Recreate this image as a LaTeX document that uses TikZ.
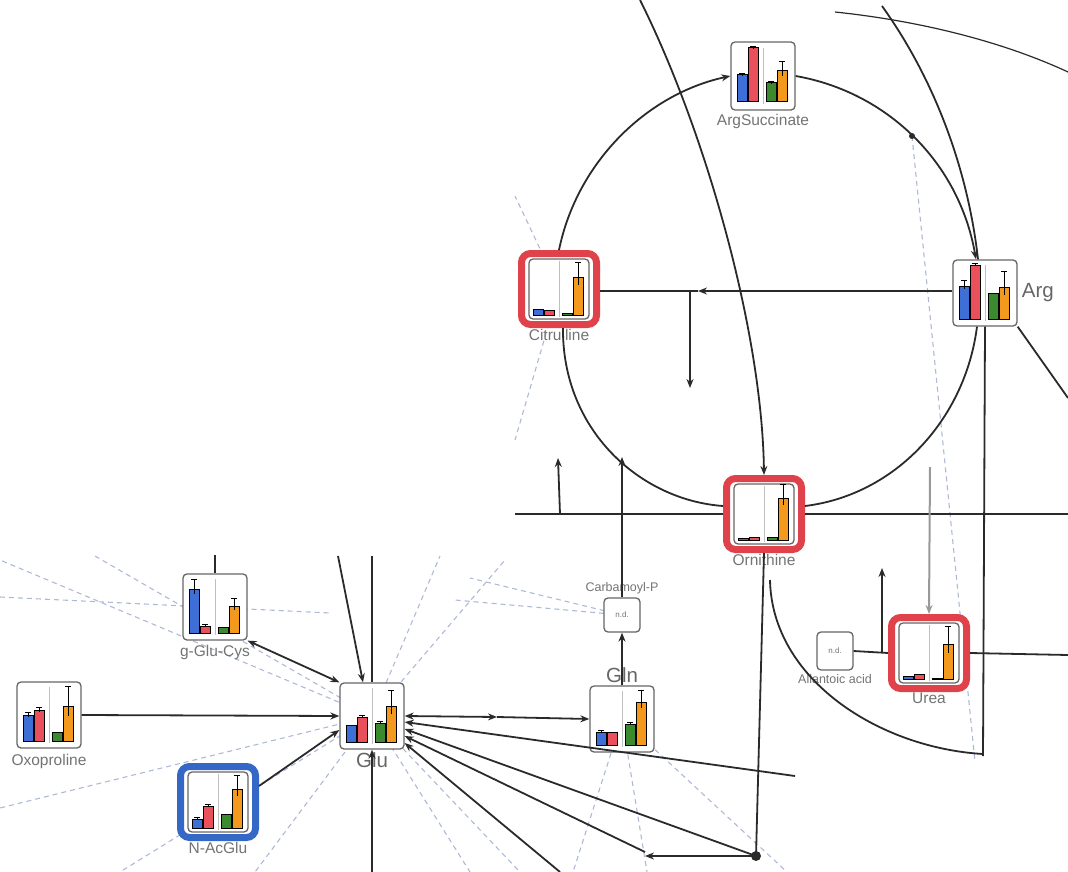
\documentclass[tikz,border=0pt]{standalone}
\usepackage{fontspec}
\newfontfamily\labelfont{Liberation Sans}
\usepackage{tikz}
\usetikzlibrary{arrows.meta,positioning}
\pgfdeclarelayer{background}
\pgfsetlayers{background,main}
\definecolor{barblue}{HTML}{3D6FD6}
\definecolor{barred}{HTML}{E9505C}
\definecolor{bargreen}{HTML}{3B8A2F}
\definecolor{barorange}{HTML}{F39A1E}
\definecolor{hlred}{HTML}{DF424B}
\definecolor{hlblue}{HTML}{3567C6}
\definecolor{edgegray}{HTML}{2A2A2A}
\definecolor{dashblue}{HTML}{AEB9D6}
\colorlet{bar1}{barblue}
\colorlet{bar2}{barred}
\colorlet{bar3}{bargreen}
\colorlet{bar4}{barorange}
\tikzset{
  mp glyph/.style={
    rectangle,
    rounded corners=4pt,
    draw=black!60,
    line width=1.3pt,
    fill=white,
    minimum width=64pt,
    minimum height=66pt,
    inner sep=0pt,
  },
  mp inner/.style={mp glyph, minimum width=60pt, minimum height=60pt},
  mp small/.style={
    mp glyph,
    minimum width=36pt,
    minimum height=34pt,
    font=\labelfont\fontsize{8}{9}\selectfont,
    text=black!55,
  },
  mp frame/.style={
    rectangle,
    rounded corners=9pt,
    line width=7pt,
    draw=#1,
    fill=white,
    minimum width=75pt,
    minimum height=71pt,
    inner sep=0pt,
  },
  mp label/.style={font=\labelfont\fontsize{15.5}{17}\selectfont, text=black!55, inner sep=1pt},
  mp tiny/.style={font=\labelfont\fontsize{12.5}{14}\selectfont, text=black!55, inner sep=1pt},
  mp big/.style={font=\labelfont\fontsize{20.5}{22}\selectfont, text=black!60, inner sep=1pt},
  mp line/.style={draw=edgegray, line width=1.8pt},
  mp arrow/.style={mp line, -{Stealth[length=9pt,width=7pt]}},
  mp both/.style={mp line, {Stealth[length=9pt,width=7pt]}-{Stealth[length=9pt,width=7pt]}},
  mp pale/.style={draw=black!40, line width=2pt, -{Stealth[length=9pt,width=7pt]}},
  mp dash/.style={draw=dashblue, line width=1.1pt, dash pattern=on 5pt off 4pt},
}
% four bars (blue, red | green, orange) as height/error
\newcommand\glyphbars[2]{%
  \begin{scope}[shift={(#1.center)}]
    \draw[black!25, line width=0.8pt] (0,-28) -- (0,28);
    \foreach \h/\e [count=\i] in {#2} {
      \pgfmathsetmacro\dx{{-21,-10,8,19}[\i-1]}
      \filldraw[fill=bar\i, draw=black, line width=1pt] (\dx-5,26) rectangle (\dx+5,26-\h);
      \ifdim\e pt>0pt
        \draw[line width=0.9pt] (\dx,26-\h+\e*0.5) -- (\dx,26-\h-\e)
          (\dx-3,26-\h-\e) -- (\dx+3,26-\h-\e);
      \fi
    }
  \end{scope}}

\begin{document}
\begin{tikzpicture}[x=1pt,y=-1pt]
  \useasboundingbox (0,0) rectangle (1068,872);

  % urea cycle
  \node[mp glyph, minimum height=68pt] (argsuc) at (763,76) {};
  \glyphbars{argsuc}{27/2, 54/2, 19/2, 31/10}
  \node[mp label, below=2pt of argsuc] (argsuc-lbl) {ArgSuccinate};

  \node[mp frame=hlred] (cit) at (559,289) {};
  \node[mp inner] (cit-box) at (cit) {};
  \glyphbars{cit-box}{6/0, 5/0, 2/0, 38/15}
  \node[mp label, below=0pt of cit] (cit-lbl) {Citrulline};

  \node[mp glyph] (arg) at (985,293) {};
  \glyphbars{arg}{33/6, 54/2, 26/0, 32/16}
  \node[mp big, right=3pt of arg] (arg-lbl) {Arg};

  \node[mp frame=hlred] (orn) at (764,514) {};
  \node[mp inner] (orn-box) at (orn) {};
  \glyphbars{orn-box}{2/0, 3/0, 3/0, 42/14}
  \node[mp label, below=0pt of orn] (orn-lbl) {Ornithine};

  \node[mp small] (carbp) at (622,615) {n.d.};
  \node[mp tiny, above=2pt of carbp] (carbp-lbl) {Carbamoyl-P};

  \node[mp small, minimum height=38pt] (allant) at (835,651) {n.d.};
  \node[mp tiny, below=3pt of allant] (allant-lbl) {Allantoic acid};

  \node[mp frame=hlred] (urea) at (929,653) {};
  \node[mp inner] (urea-box) at (urea) {};
  \glyphbars{urea-box}{3/0, 5/0, 1/0, 35/18}
  \node[mp label, below=0pt of urea] (urea-lbl) {Urea};

  % glutamate side
  \node[mp glyph] (gglucys) at (215,607) {};
  \glyphbars{gglucys}{44/10, 7/2, 6/0, 27/8}
  \node[mp label, below=3pt of gglucys] (gglucys-lbl) {g-Glu-Cys};

  \node[mp glyph] (oxo) at (49,715) {};
  \glyphbars{oxo}{26/3, 31/3, 9/0, 35/20}
  \node[mp label, below=4pt of oxo] (oxo-lbl) {Oxoproline};

  \node[mp glyph] (glu) at (372,716) {};
  \glyphbars{glu}{17/0, 25/2, 19/2, 36/16}
  \node[mp big, below=2pt of glu] (glu-lbl) {Glu};

  \node[mp frame=hlblue] (nacglu) at (218,802) {};
  \node[mp inner] (nacglu-box) at (nacglu) {};
  \glyphbars{nacglu-box}{9/2, 22/2, 14/0, 39/14}
  \node[mp label, below=0pt of nacglu] (nacglu-lbl) {N-AcGlu};

  \node[mp glyph] (gln) at (622,719) {};
  \glyphbars{gln}{13/2, 13/0, 21/2, 43/12}
  \node[mp big, above=1pt of gln] (gln-lbl) {Gln};

  % free ends
  \coordinate (top-orn) at (640,0);
  \coordinate (top-arg) at (882,6);
  \coordinate (arc-a) at (835,12);
  \coordinate (arc-b) at (1068,72);
  \coordinate (as-dot) at (912,136);
  \coordinate (ca-mid) at (698,291);
  \coordinate (ca-fork) at (690,291);
  \coordinate (ca-drop) at (690,388);
  \coordinate (orn-l) at (515,514);
  \coordinate (orn-r) at (1068,514);
  \coordinate (orn-upf) at (560,514);
  \coordinate (orn-up) at (558,458);
  \coordinate (cp-top) at (622,457);
  \coordinate (dot) at (756,856);
  \coordinate (dot-l) at (645,856);
  \coordinate (low-a) at (770,580);
  \coordinate (low-b) at (983,754);
  \coordinate (arg-down) at (983,756);
  \coordinate (arg-se) at (1068,398);
  \coordinate (urea-in) at (930,467);
  \coordinate (ur-fork) at (882,652);
  \coordinate (ur-up) at (882,568);
  \coordinate (urea-r) at (1068,655);
  \coordinate (glu-top1) at (338,556);
  \coordinate (glu-top2) at (372,556);
  \coordinate (glu-bot) at (372,872);
  \coordinate (gc-top) at (215,555);
  \coordinate (gg-mid) at (497,717);
  \coordinate (fan-a) at (795,776);
  \coordinate (fan-c) at (645,852);
  \coordinate (fan-d) at (560,872);

  \begin{pgfonlayer}{background}
    \foreach \x/\y in {0/560, 95/556, 0/808, 120/872, 255/872, 440/556, 505/560, 470/872, 520/872}
      \draw[mp dash] (glu.center) -- (\x,\y);
    \draw[mp dash] (0,597) -- (330,613);
    \draw[mp dash] (carbp.center) -- (470,578);
    \draw[mp dash] (carbp.center) -- (455,600);
    \foreach \x/\y in {573/872, 647/872, 787/872}
      \draw[mp dash] (gln.center) -- (\x,\y);
    \draw[mp dash] (as-dot) -- (975,762);
    \draw[mp dash] (cit.center) -- (515,196);
    \draw[mp dash] (cit.center) -- (515,440);
  \end{pgfonlayer}

  % cycle arcs
  \draw[mp arrow] (cit.north) .. controls (577,162) and (647,94) .. (argsuc.west);
  \draw[mp arrow] (argsuc.east) .. controls (887,92) and (959,162) .. ([xshift=-9pt]arg.north);
  \draw[mp line] (top-arg) .. controls (935,80) and (968,170) .. ([xshift=-7pt]arg.north);
  \draw[mp line] ([xshift=-8pt]arg.south) .. controls (965,420) and (895,495) .. ([yshift=8pt]orn.east);
  \draw[mp line] ([yshift=8pt]orn.west) .. controls (640,500) and (562,430) .. ([xshift=4pt]cit.south);
  \fill[edgegray] (as-dot) circle (3pt);
  \draw[mp line, line width=1.2pt] (arc-a) .. controls (930,22) and (1010,45) .. (arc-b);
  \draw[mp arrow] (top-orn) .. controls (705,130) and (762,330) .. (orn.north);

  % citrulline - arg
  \draw[mp arrow] (ca-mid -| arg.west) -- (ca-mid);
  \draw[mp line] (ca-mid) -- (ca-mid -| cit.east);
  \draw[mp arrow] (ca-fork) -- (ca-drop);

  % ornithine row
  \draw[mp line] (orn-l) -- (orn.west);
  \draw[mp line] (orn.east) -- (orn-r);
  \draw[mp arrow] (orn-upf) -- (orn-up);
  \draw[mp arrow] (carbp.north) -- (cp-top);
  \draw[mp arrow] (gln.north) -- (carbp.south);
  \draw[mp line] (orn.south) -- (dot);
  \fill[edgegray] (dot) circle (5pt);
  \draw[mp arrow] (dot) -- (dot-l);
  \draw[mp line] (low-a) .. controls (772,680) and (880,748) .. (low-b);

  % arg and urea
  \draw[mp line] (arg.south) -- (arg-down);
  \draw[mp line] (arg.south east) -- (arg-se);
  \draw[mp pale] (urea-in) -- (urea.north);
  \draw[mp line] (allant.east) -- (urea.west);
  \draw[mp arrow] (ur-fork) -- (ur-up);
  \draw[mp line] (urea.east) -- (urea-r);

  % glutamate
  \draw[mp arrow] (oxo.east) -- (glu.west);
  \draw[mp both] (gglucys.south east) -- (glu.north west);
  \draw[mp arrow] ([yshift=16pt]nacglu.east) -- ([yshift=-14pt]glu.west);
  \draw[mp arrow] (glu-top1) -- ([xshift=-9pt]glu.north);
  \draw[mp line] (glu-top2) -- (glu.north);
  \draw[mp arrow] (glu-bot) -- (glu.south);
  \draw[mp line] (gc-top) -- (gglucys.north);
  \draw[mp both] (glu.east) -- (gg-mid);
  \draw[mp arrow] (gg-mid) -- (gln.west);
  \draw[mp arrow] (fan-a) -- ([yshift=-6pt]glu.east);
  \draw[mp arrow] (dot) -- ([yshift=-13pt]glu.east);
  \draw[mp arrow] (fan-c) -- ([yshift=-20pt]glu.east);
  \draw[mp arrow] (fan-d) -- ([yshift=-27pt]glu.east);
\end{tikzpicture}
\end{document}
